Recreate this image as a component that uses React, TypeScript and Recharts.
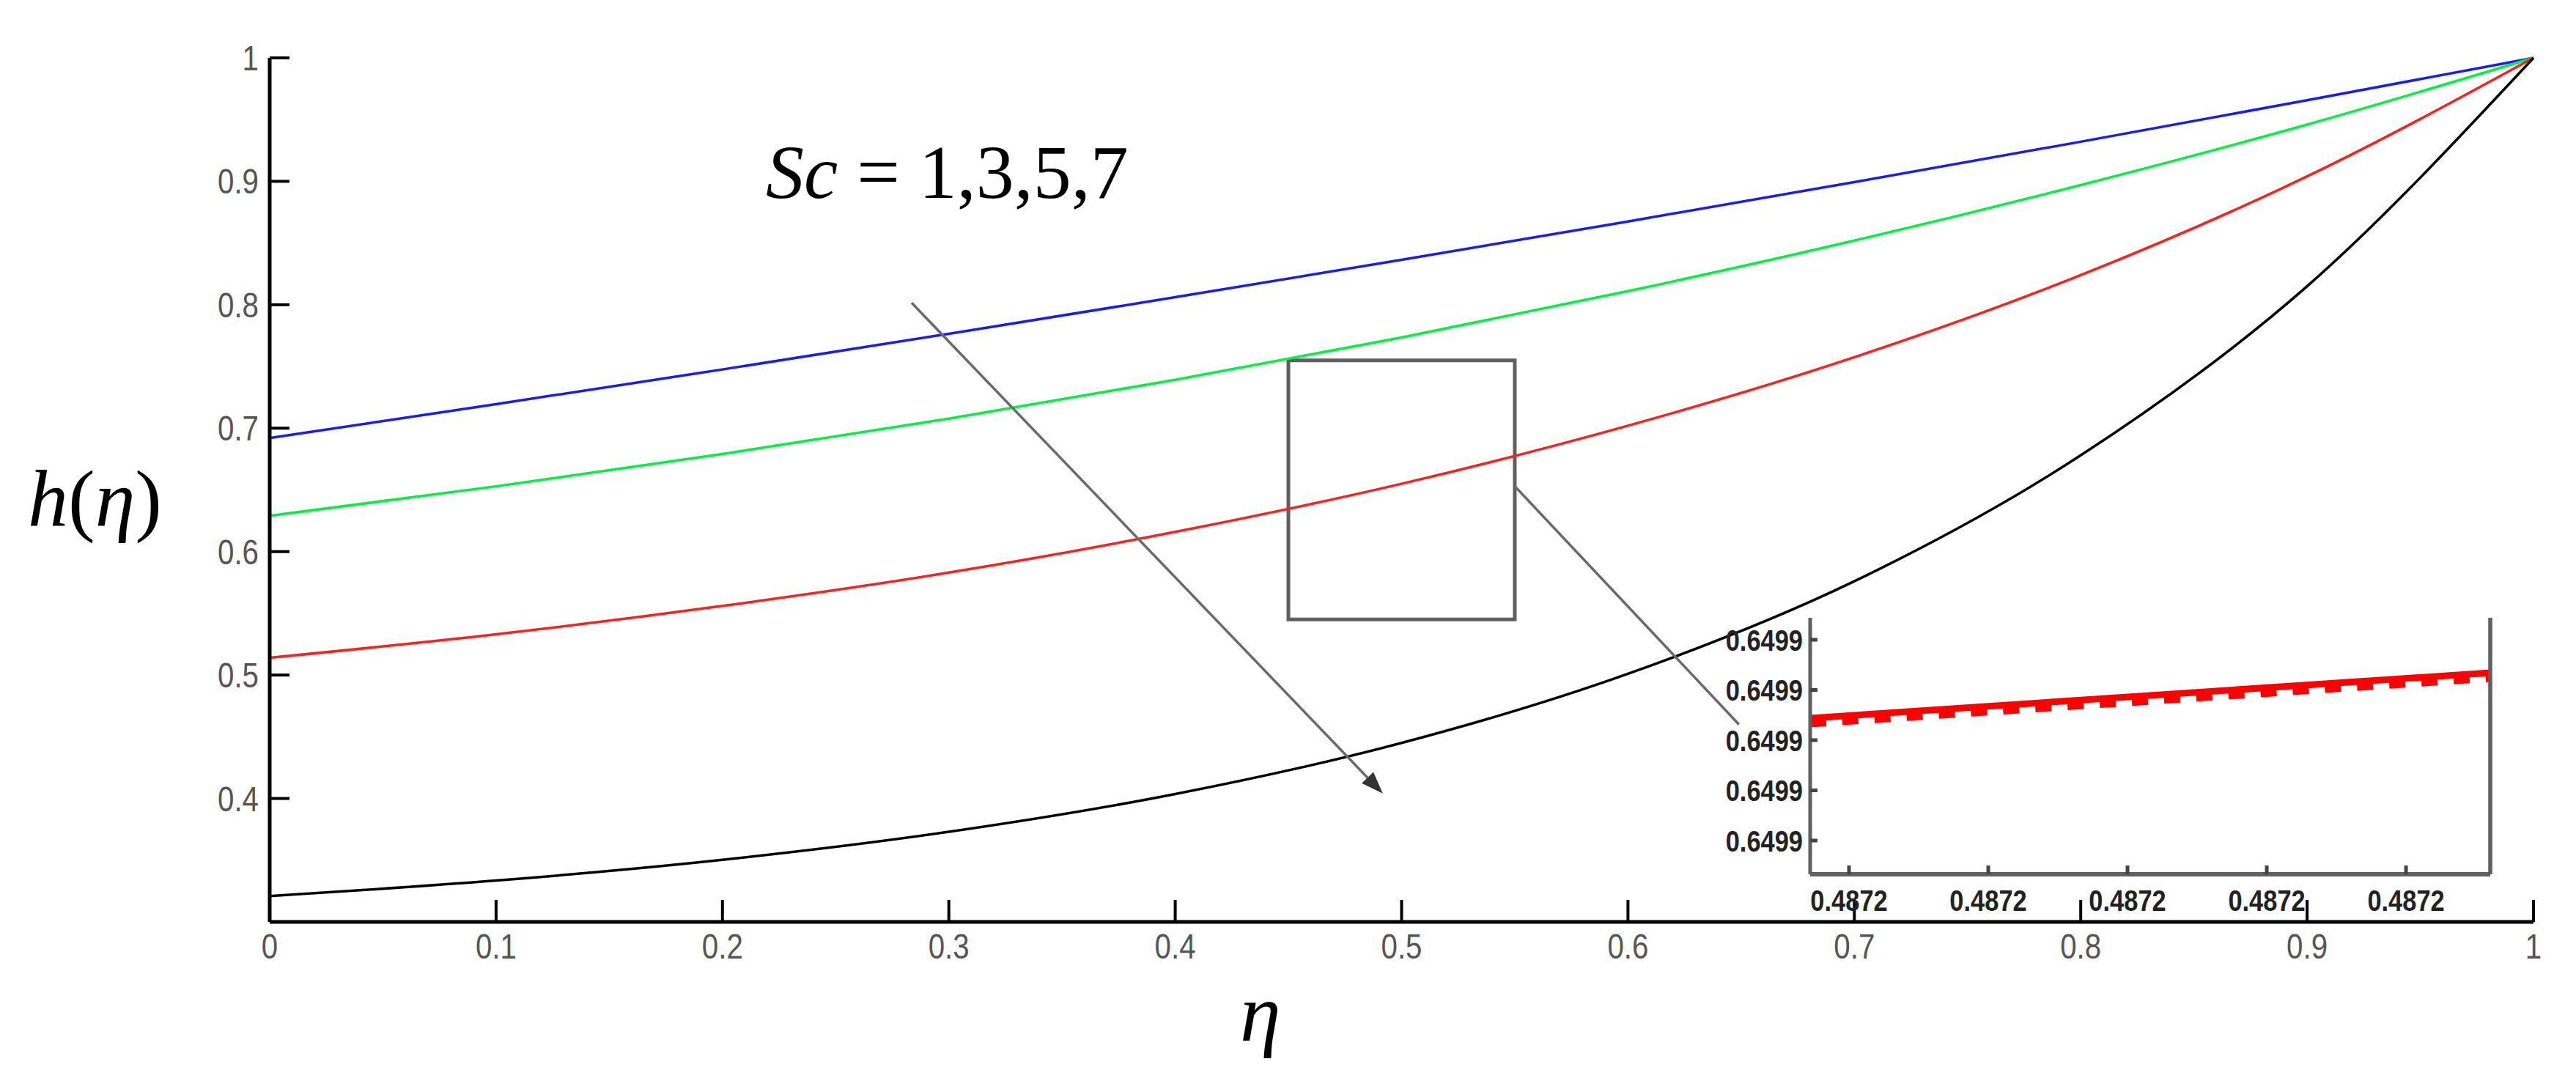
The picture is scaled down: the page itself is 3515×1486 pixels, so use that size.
// h(eta) profiles for Sc = 1,3,5,7 with a zoomed inset around eta ~ 0.4872
import React from "react";
import { LineChart, Line, XAxis, YAxis, ReferenceArea, ReferenceLine, Label } from "recharts";

document.body.style.margin = "0";

// main curves
const eta = [0, 0.1, 0.2, 0.3, 0.4, 0.5, 0.6, 0.7, 0.8, 0.9, 1];
const sc1 = [0.692, 0.7195, 0.7476, 0.7765, 0.8061, 0.8364, 0.8675, 0.8994, 0.9321, 0.9657, 1.0];
const sc3 = [0.629, 0.6529, 0.6791, 0.7078, 0.7392, 0.7735, 0.811, 0.852, 0.897, 0.946, 1.0];
const sc5 = [0.514, 0.533, 0.556, 0.583, 0.616, 0.655, 0.702, 0.7575, 0.824, 0.904, 1.0];
const sc7 = [0.321, 0.3335, 0.3503, 0.373, 0.4036, 0.445, 0.501, 0.576, 0.678, 0.815, 1.0];

const etaTicks = [0, 0.1, 0.2, 0.3, 0.4, 0.5, 0.6, 0.7, 0.8, 0.9, 1];
const hTicks = [0.4, 0.5, 0.6, 0.7, 0.8, 0.9, 1];

// inset (zoom)
const insetEta = [0.48717721, 0.48722605];
const insetSolid = [0.64992438, 0.64993343];
const insetDashed = [0.64992321, 0.64993226];
const insetEtaTicks = [0.48718, 0.48719, 0.4872, 0.48721, 0.48722];
const insetHTicks = [0.64994, 0.64993, 0.64992, 0.64991, 0.6499];

const rows = eta.map((e, i) => ({ eta: e, sc1: sc1[i], sc3: sc3[i], sc5: sc5[i], sc7: sc7[i] }));
const insetRows = insetEta.map((e, i) => ({ x: e, solid: insetSolid[i], dashed: insetDashed[i] }));

const TICK_FONT = "'Liberation Sans', Arial, sans-serif";
const SERIF = "'Liberation Serif', 'DejaVu Serif', serif";

// narrow text: plain sans squeezed horizontally
function Narrow(props: any) {
  const { x, y, anchor, size, weight, fill, children } = props;
  return (
    <text
      transform={`translate(${x},${y}) scale(0.84,1)`}
      textAnchor={anchor}
      fontSize={size}
      fontWeight={weight}
      fill={fill}
      fontFamily={TICK_FONT}
    >
      {children}
    </text>
  );
}

function MainYTick(props: any) {
  const { x, y, payload } = props;
  return (
    <g>
      <line x1={x + 15} y1={y} x2={x + 42} y2={y} stroke="#000" strokeWidth={4} />
      <Narrow x={x} y={y + 17} anchor="end" size={48} fill="#555">
        {payload.value}
      </Narrow>
    </g>
  );
}

function MainXTick(props: any) {
  const { x, y, payload } = props;
  return (
    <g>
      <line x1={x} y1={y - 15} x2={x} y2={y - 45} stroke="#000" strokeWidth={4} />
      <Narrow x={x} y={y + 35} anchor="middle" size={48} fill="#555">
        {payload.value}
      </Narrow>
    </g>
  );
}

function InsetYTick(props: any) {
  const { x, y, payload } = props;
  return (
    <g>
      <line x1={x + 10} y1={y} x2={x + 20} y2={y} stroke="#444" strokeWidth={5} />
      <Narrow x={x} y={y + 15} anchor="end" size={41} weight="bold" fill="#222">
        {Number(payload.value).toFixed(4)}
      </Narrow>
    </g>
  );
}

function InsetXTick(props: any) {
  const { x, y, payload } = props;
  return (
    <g>
      <line x1={x} y1={y - 19} x2={x} y2={y - 31} stroke="#444" strokeWidth={5} />
      <Narrow x={x} y={y + 31} anchor="middle" size={41} weight="bold" fill="#222">
        {Number(payload.value).toFixed(4)}
      </Narrow>
    </g>
  );
}

function InsetTopTick(props: any) {
  const { x, y } = props;
  return <line x1={x} y1={y} x2={x} y2={y + 11} stroke="#444" strokeWidth={4} />;
}

function InsetRightTick(props: any) {
  const { x, y } = props;
  return <line x1={x} y1={y} x2={x - 10} y2={y} stroke="#222" strokeWidth={5} />;
}

function Seta(props: any) {
  const { x1, y1, x2, y2, head } = props;
  if ([x1, y1, x2, y2].some((v) => v == null || isNaN(v))) return null;
  const ang = Math.atan2(y2 - y1, x2 - x1);
  const len = 30;
  const w = 11;
  const bx = x2 - len * Math.cos(ang);
  const by = y2 - len * Math.sin(ang);
  const px = -Math.sin(ang) * w;
  const py = Math.cos(ang) * w;
  return (
    <g>
      <line x1={x1} y1={y1} x2={head ? bx : x2} y2={head ? by : y2} stroke="#6a6a6a" strokeWidth={3.5} />
      {head && (
        <polygon points={`${x2},${y2} ${bx + px},${by + py} ${bx - px},${by - py}`} fill="#333" />
      )}
    </g>
  );
}

export default function App() {
  return (
    <div style={{ position: "relative", width: 3515, height: 1486, background: "#fff" }}>
      <LineChart width={3515} height={1486} data={rows} margin={{ top: 79, right: 58, bottom: 0, left: 0 }}>
        <XAxis
          dataKey="eta"
          type="number"
          domain={[0, 1]}
          ticks={etaTicks}
          interval={0}
          height={228}
          tickSize={0}
          tickMargin={15}
          axisLine={{ stroke: "#000", strokeWidth: 5 }}
          tick={MainXTick}
        >
          <Label
            content={() => (
              <text x={1692} y={1420} fontFamily={SERIF} fontSize={112} fontStyle="italic" fill="#000">
                η
              </text>
            )}
          />
        </XAxis>
        <YAxis
          type="number"
          domain={[0.3, 1]}
          ticks={hTicks}
          interval={0}
          width={368}
          tickSize={0}
          tickMargin={15}
          axisLine={{ stroke: "#000", strokeWidth: 5 }}
          tick={MainYTick}
        >
          <Label
            content={() => (
              <text x={38} y={718} fontFamily={SERIF} fontSize={110} fill="#000">
                <tspan fontStyle="italic">h</tspan>
                <tspan>(</tspan>
                <tspan fontStyle="italic">η</tspan>
                <tspan>)</tspan>
              </text>
            )}
          />
        </YAxis>

        <Line dataKey="sc1" type="monotone" stroke="#1a1aff" strokeWidth={3.5} dot={false} isAnimationActive={false} />
        <Line dataKey="sc3" type="monotone" stroke="#00f040" strokeWidth={3.5} dot={false} isAnimationActive={false} />
        <Line dataKey="sc5" type="monotone" stroke="#ff2020" strokeWidth={3.5} dot={false} isAnimationActive={false} />
        <Line dataKey="sc7" type="monotone" stroke="#000" strokeWidth={3.5} dot={false} isAnimationActive={false} />

        <ReferenceArea
          x1={0.45}
          x2={0.55}
          y1={0.545}
          y2={0.755}
          fill="none"
          fillOpacity={0}
          stroke="#5f5f5f"
          strokeWidth={5}
          isFront
        >
          <Label
            content={() => (
              <text x={1045} y={270} fontFamily={SERIF} fontSize={104} fill="#000">
                <tspan fontStyle="italic">Sc</tspan>
                <tspan> = 1,3,5,7</tspan>
              </text>
            )}
          />
        </ReferenceArea>

        <ReferenceLine
          segment={[{ x: 0.2836, y: 0.8015 }, { x: 0.4917, y: 0.404 }]}
          shape={(p: any) => <Seta {...p} head />}
          isFront
        />
        <ReferenceLine
          segment={[{ x: 0.55, y: 0.653 }, { x: 0.649, y: 0.46 }]}
          shape={(p: any) => <Seta {...p} head={false} />}
          isFront
        />
      </LineChart>

      <div style={{ position: "absolute", left: 2290, top: 830 }}>
        <LineChart width={1118} height={433} data={insetRows} margin={{ top: 13, right: 9, bottom: 0, left: 0 }}>
          <XAxis
            dataKey="x"
            type="number"
            domain={[insetEta[0], insetEta[1]]}
            ticks={insetEtaTicks}
            interval={0}
            height={70}
            tickSize={0}
            tickMargin={19}
            axisLine={{ stroke: "#606060", strokeWidth: 6 }}
            tick={InsetXTick}
          />
          <XAxis
            xAxisId="top"
            orientation="top"
            dataKey="x"
            type="number"
            domain={[insetEta[0], insetEta[1]]}
            ticks={insetEtaTicks}
            interval={0}
            height={0}
            tickSize={0}
            tickMargin={0}
            axisLine={{ stroke: "#fff", strokeWidth: 0 }}
            tick={InsetTopTick}
          />
          <YAxis
            type="number"
            domain={[0.64989328, 0.64994438]}
            ticks={insetHTicks}
            interval={0}
            width={180}
            tickSize={0}
            tickMargin={10}
            axisLine={{ stroke: "#606060", strokeWidth: 5 }}
            tick={InsetYTick}
          />
          <YAxis
            yAxisId="right"
            orientation="right"
            type="number"
            domain={[0.64989328, 0.64994438]}
            ticks={insetHTicks}
            interval={0}
            width={1}
            tickSize={0}
            tickMargin={0}
            axisLine={{ stroke: "#606060", strokeWidth: 5 }}
            tick={InsetRightTick}
          />
          <ReferenceLine x={insetEta[1]} stroke="#606060" strokeWidth={5} isFront />
          <Line dataKey="solid" type="linear" stroke="#ff0000" strokeWidth={9} dot={false} isAnimationActive={false} />
          <Line
            dataKey="dashed"
            type="linear"
            stroke="#ff0000"
            strokeWidth={9}
            strokeDasharray="22 22"
            dot={false}
            isAnimationActive={false}
          />
        </LineChart>
      </div>
    </div>
  );
}
